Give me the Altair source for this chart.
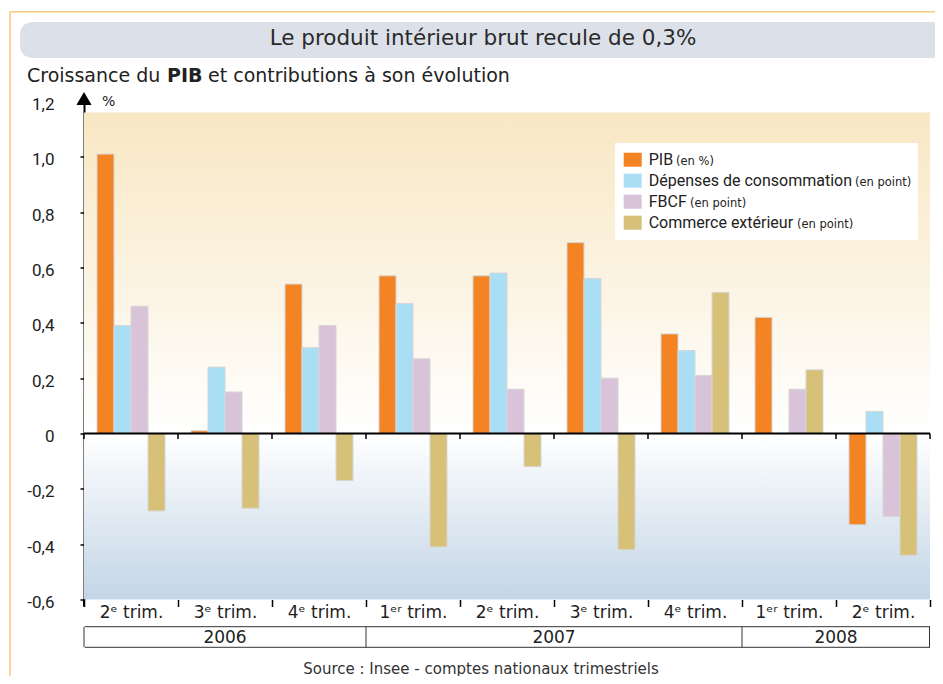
import altair as alt
import pandas as pd

# ---------------- data ----------------
quarters = ["2ᵉ trim.", "3ᵉ trim.", "4ᵉ trim.", "1ᵉʳ trim.", "2ᵉ trim.", "3ᵉ trim.",
            "4ᵉ trim.", "1ᵉʳ trim.", "2ᵉ trim."]
years = ["2006", "2006", "2006", "2007", "2007", "2007", "2007", "2008", "2008"]
series = ["PIB", "Dépenses de consommation", "FBCF", "Commerce extérieur"]
units = ["(en %)", "(en point)", "(en point)", "(en point)"]
pib = [1.01, 0.01, 0.54, 0.57, 0.57, 0.69, 0.36, 0.42, -0.33]
conso = [0.39, 0.24, 0.31, 0.47, 0.58, 0.56, 0.30, 0.0, 0.08]
fbcf = [0.46, 0.15, 0.39, 0.27, 0.16, 0.20, 0.21, 0.16, -0.30]
commerce = [-0.28, -0.27, -0.17, -0.41, -0.12, -0.42, 0.51, 0.23, -0.44]
y_ticks = [-0.6, -0.4, -0.2, 0, 0.2, 0.4, 0.6, 0.8, 1.0, 1.2]
title_text = "Le produit intérieur brut recule de 0,3%"
source_text = "Source : Insee - comptes nationaux trimestriels"

# ---------------- styles ----------------
colors = ["#F38323", "#AADEF5", "#D8C3D8", "#D7C078"]
FONT = "Roboto"
WIDE = "DejaVu Sans"
W, H = 846, 498
PAD_L, PAD_T = 76, 93.5
SVG_W, SVG_H = 927, 668

keys = [f"{y}|{q}" for y, q in zip(years, quarters)]
values = [pib, conso, fbcf, commerce]
rows = []
for s, vals in zip(series, values):
    for k, v in zip(keys, vals):
        rows.append({"key": k, "series": s, "value": v})
df = pd.DataFrame(rows)
one = pd.DataFrame({"a": [0]})

xscale = alt.Scale(domain=keys, paddingInner=0, paddingOuter=0)
yscale = alt.Scale(domain=[-0.6, 1.2], nice=False, zero=False)

# background gradients
grad_top = alt.Gradient(gradient="linear", x1=0, x2=0, y1=0, y2=1,
                        stops=[alt.GradientStop(color="#F8E7C3", offset=0),
                               alt.GradientStop(color="#FFFFFF", offset=1)])
grad_bot = alt.Gradient(gradient="linear", x1=0, x2=0, y1=0, y2=1,
                        stops=[alt.GradientStop(color="#FFFFFF", offset=0),
                               alt.GradientStop(color="#C3D5E6", offset=1)])

bg_top = alt.Chart(one).mark_rect(fill=grad_top).encode(
    x=alt.value(0), x2=alt.value(W),
    y=alt.YDatum(1.16, scale=yscale, title=None), y2=alt.datum(0))
bg_bot = alt.Chart(one).mark_rect(fill=grad_bot).encode(
    x=alt.value(0), x2=alt.value(W),
    y=alt.YDatum(0, scale=yscale, title=None), y2=alt.datum(-0.6))

legend_box = alt.Chart(one).mark_rect(fill="white").encode(
    x=alt.value(531), x2=alt.value(834), y=alt.value(41.5), y2=alt.value(138.5))

bars = alt.Chart(df).mark_bar(stroke="#D6D6D6", strokeWidth=1).encode(
    x=alt.X("key:N", scale=xscale, sort=keys, title=None,
            axis=alt.Axis(labelExpr="split(datum.label, '|')[1]")),
    xOffset=alt.XOffset("series:N", sort=series,
                        scale=alt.Scale(domain=series, paddingInner=0, paddingOuter=0.765)),
    y=alt.Y("value:Q", scale=yscale, title=None,
            axis=alt.Axis(values=y_ticks,
                          labelExpr="datum.value == 0 ? '0' : (datum.value < 0 ? '-' : '') + replace(format(abs(datum.value), '.1f'), '.', ',')")),
    color=alt.Color("series:N", sort=series,
                    scale=alt.Scale(domain=series, range=colors),
                    legend=alt.Legend(title=None, orient="none", legendX=540.7, legendY=50.2,
                                      symbolType="M-1.2857,-1L1.2857,-1L1.2857,1L-1.2857,1Z",
                                      symbolSize=196, symbolStrokeWidth=0,
                                      labelFont=FONT, labelFontSize=16, labelColor="#222222",
                                      rowPadding=5, labelOffset=8, padding=0, labelLimit=400)),
)

zero_line = alt.Chart(one).mark_rule(color="black", strokeWidth=2).encode(
    x=alt.value(0), x2=alt.value(W), y=alt.datum(0))

tick_df = pd.DataFrame({"key": keys})
zero_ticks = alt.Chart(tick_df).mark_rule(color="black", strokeWidth=1.5).encode(
    x=alt.X("key:N", scale=xscale, sort=keys, bandPosition=0, title=None),
    y=alt.datum(0), y2=alt.datum(-0.02))
zero_tick_end = alt.Chart(one).mark_rule(color="black", strokeWidth=1.5).encode(
    x=alt.value(W), y=alt.datum(0), y2=alt.datum(-0.02))

axis_ext = alt.Chart(one).mark_rule(color="black", strokeWidth=2).encode(
    x=alt.value(0), y=alt.value(H), y2=alt.value(H + 7))
arrow = alt.Chart(one).mark_point(shape="triangle-up", filled=True, color="black",
                                  size=230, opacity=1).encode(
    x=alt.value(0), y=alt.value(-3))

# year boxes
year_names = list(dict.fromkeys(years))
year_first = [years.index(y) for y in year_names]
year_last = [len(years) - 1 - years[::-1].index(y) for y in year_names]
box_top, box_bot = 525.2, 545.8
year_layers = [
    alt.Chart(one).mark_rule(color="#333333", strokeWidth=1).encode(
        x=alt.value(1), x2=alt.value(W), y=alt.value(box_top)),
    alt.Chart(one).mark_rule(color="#333333", strokeWidth=1).encode(
        x=alt.value(1), x2=alt.value(W), y=alt.value(box_bot)),
    alt.Chart(pd.DataFrame({"key": [keys[i] for i in year_first]})).mark_rule(
        color="#333333", strokeWidth=1).encode(
        x=alt.X("key:N", scale=xscale, sort=keys, bandPosition=0, title=None),
        y=alt.value(box_top), y2=alt.value(box_bot)),
    alt.Chart(one).mark_rule(color="#333333", strokeWidth=1).encode(
        x=alt.value(W - 0.5), y=alt.value(box_top), y2=alt.value(box_bot)),
]
for name, f, l in zip(year_names, year_first, year_last):
    m = (f + l + 1) / 2
    idx = int(m)
    bp = m - idx
    year_layers.append(
        alt.Chart(pd.DataFrame({"key": [keys[idx]], "t": [name]})).mark_text(
            font=WIDE, fontSize=17, color="#222222", baseline="alphabetic").encode(
            x=alt.X("key:N", scale=xscale, sort=keys, bandPosition=bp, title=None),
            y=alt.value(541.8), text="t:N"))


def txt(s, x, y, size, weight="normal", align="left", color="#222222", font=WIDE):
    return alt.Chart(one).mark_text(text=s, font=font, fontSize=size, fontWeight=weight,
                                    align=align, baseline="alphabetic", color=color).encode(
        x=alt.value(x), y=alt.value(y))


frame = [
    alt.Chart(one).mark_rule(color="#F9C97E", strokeWidth=1.5).encode(
        x=alt.value(-74), x2=alt.value(860), y=alt.value(-89.8)),
    alt.Chart(one).mark_rule(color="#F9C97E", strokeWidth=1.5).encode(
        x=alt.value(-74), y=alt.value(-89.8), y2=alt.value(600)),
]
title_box = alt.Chart(one).mark_rect(fill="#DCE1E9", cornerRadius=12).encode(
    x=alt.value(-64), x2=alt.value(860), y=alt.value(-79.5), y2=alt.value(-43.5))

texts = [
    txt(title_text, 399, -56.5, 21.5, color="#2a2a2a", align="center"),
    txt("Croissance du", -57, -19.8, 19),
    txt("PIB", 83, -19.8, 19, weight="bold"),
    txt("et contributions à son évolution", 124, -19.8, 19),
    txt("%", 18, 4.5, 14),
    txt(source_text, 397, 572, 15, align="center", color="#333333"),
]
unit_x = [592, 771, 606, 713]
unit_y = [63.8, 84.8, 105.8, 126.8]
unit_texts = [txt(u, ux, uy, 11.5) for u, ux, uy in zip(units, unit_x, unit_y)]

chart = alt.layer(
    *frame, title_box, bg_top, bg_bot, legend_box, bars, zero_line, zero_ticks, zero_tick_end,
    axis_ext, arrow, *year_layers, *texts, *unit_texts
).properties(
    width=W, height=H,
    autosize=alt.AutoSizeParams(type="none"),
    padding={"left": PAD_L, "top": PAD_T, "right": SVG_W - PAD_L - W, "bottom": SVG_H - PAD_T - H},
).configure_view(stroke=None).configure_axisX(
    domain=False, tickBand="extent", tickColor="black", tickSize=7, tickWidth=1.5,
    labelFont=WIDE, labelFontSize=17, labelColor="#222222", labelBaseline="alphabetic",
    labelPadding=11.2, labelAngle=0, grid=False
).configure_axisY(
    domainColor="black", domainWidth=2, tickColor="black", tickSize=4, tickWidth=1.5,
    labelFont=FONT, labelFontSize=17, labelColor="#222222", labelPadding=26,
    labelOffset=3, grid=False
)

chart.save("out.html", embed_options={"renderer": "svg", "actions": False})
